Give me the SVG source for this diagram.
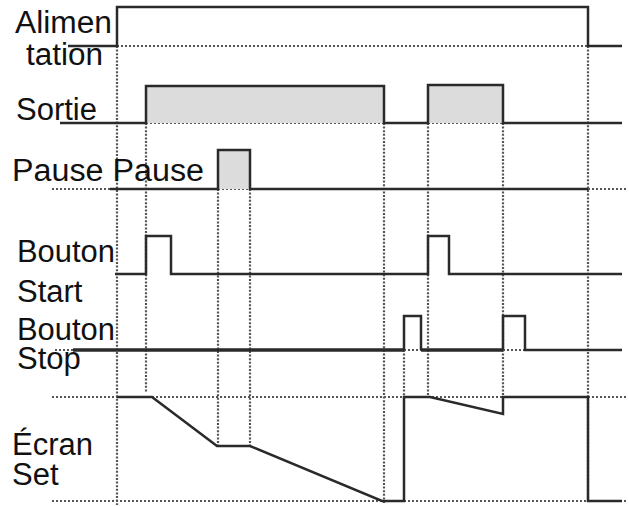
<svg xmlns="http://www.w3.org/2000/svg" width="629" height="506" viewBox="0 0 629 506">
<style>
.lbl{font-family:"Liberation Sans",Arial,sans-serif;font-size:31px;fill:#111}
.sig{fill:none;stroke:#2a2a2a;stroke-width:2.5;stroke-linejoin:miter}
.fill{fill:#dcdcdc;stroke:none}
.hd{fill:none;stroke:#555;stroke-width:2.2;stroke-dasharray:2 2}
.vd{fill:none;stroke:#555;stroke-width:2.2;stroke-dasharray:2 1.6}
</style>
<rect width="629" height="506" fill="#fff"/>
<g id="guides">
<path class="vd" d="M117,46V505M146,123V392M218,189V446M250,189V446M384,123V503M404,350V397M428,123V397M503,123V397M588,46V501"/>
<path class="hd" d="M117,46H588M146,123H384M428,123H503M52,189H110M218,189H250M588,189H626M55,350H73M404,350H421M503,350H525M52,397H626M52,501H626"/>
</g>
<g id="alimentation">
<text class="lbl" x="15" y="33" textLength="97" lengthAdjust="spacingAndGlyphs">Alimen</text>
<text class="lbl" x="26" y="65" textLength="77" lengthAdjust="spacingAndGlyphs">tation</text>
<path class="sig" d="M68,46H117V7H588V46H622"/>
</g>
<g id="sortie">
<text class="lbl" x="16" y="120" textLength="81" lengthAdjust="spacingAndGlyphs">Sortie</text>
<rect class="fill" x="146" y="86" width="238" height="37"/>
<rect class="fill" x="428" y="85" width="75" height="38"/>
<path class="sig" d="M60,123H146V86H384V123H428V85H503V123H622"/>
</g>
<g id="pause">
<text class="lbl" x="12" y="181" textLength="192" lengthAdjust="spacingAndGlyphs">Pause Pause</text>
<rect class="fill" x="218" y="150" width="32" height="39"/>
<path class="sig" d="M110,189H218V150H250V189H588"/>
</g>
<g id="bouton-start">
<text class="lbl" x="17" y="262" textLength="98" lengthAdjust="spacingAndGlyphs">Bouton</text>
<text class="lbl" x="17" y="302">Start</text>
<path class="sig" d="M115,274H146V236H171V274H428V236H449V274H622"/>
</g>
<g id="bouton-stop">
<text class="lbl" x="17" y="340" textLength="98" lengthAdjust="spacingAndGlyphs">Bouton</text>
<text class="lbl" x="17" y="369">Stop</text>
<path class="sig" d="M73,350H404M421,350H503" style="stroke-width:3.5"/>
<path class="sig" d="M404,350V316H421V350M503,350V316H525V350H622"/>
</g>
<g id="ecran-set">
<text class="lbl" x="12" y="455">Écran</text>
<text class="lbl" x="12" y="485">Set</text>
<path class="sig" d="M117,397H152L217,446H250L382,501H404V397H430L503,414V397H588V501H622"/>
</g>
</svg>
